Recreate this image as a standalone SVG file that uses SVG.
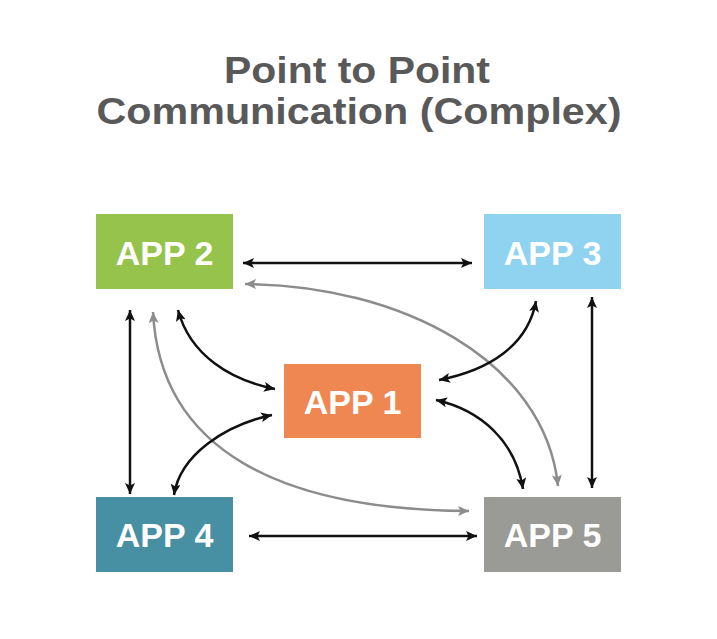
<svg xmlns="http://www.w3.org/2000/svg" width="717" height="639" viewBox="0 0 717 639">
<style>
.title{font-family:"Liberation Sans",Arial,sans-serif;font-weight:bold;font-size:36px;fill:#595959;text-anchor:middle}
.lbl{font-family:"Liberation Sans",Arial,sans-serif;font-weight:bold;font-size:34px;fill:#ffffff;text-anchor:middle}
.blk{fill:none;stroke:#111111;stroke-width:2.5;marker-start:url(#ab);marker-end:url(#ab)}
.gry{fill:none;stroke:#8c8c8c;stroke-width:2.5;marker-start:url(#ag);marker-end:url(#ag)}
</style>
<defs>
<marker id="ab" markerUnits="userSpaceOnUse" markerWidth="12" markerHeight="10" refX="11" refY="5" orient="auto-start-reverse" viewBox="0 0 12 10">
<path d="M0,0 L11,5 L0,10 L2.5,5 z" fill="#111111"/>
</marker>
<marker id="ag" markerUnits="userSpaceOnUse" markerWidth="12" markerHeight="10" refX="11" refY="5" orient="auto-start-reverse" viewBox="0 0 12 10">
<path d="M0,0 L11,5 L0,10 L2.5,5 z" fill="#8c8c8c"/>
</marker>
</defs>
<rect width="717" height="639" fill="#ffffff"/>
<g id="title">
<text class="title" x="357" y="83" textLength="266" lengthAdjust="spacingAndGlyphs">Point to Point</text>
<text class="title" x="359" y="124" textLength="525" lengthAdjust="spacingAndGlyphs">Communication (Complex)</text>
</g>
<g id="connectors">
<path class="blk" d="M243,263 L472,263"/>
<path class="gry" d="M245,284 C400,285 545,360 558,486"/>
<path class="gry" d="M153,312 C160,450 280,510 469,511"/>
<path class="blk" d="M130,310 L130,494"/>
<path class="blk" d="M178,310 C190,355 230,380 275,389"/>
<path class="blk" d="M272,415 C225,425 180,455 174,495"/>
<path class="blk" d="M536,301 C528,345 490,370 439,380"/>
<path class="blk" d="M436,400 C480,410 515,440 523,489"/>
<path class="blk" d="M592,297 L592,488"/>
<path class="blk" d="M249,536 L477,536"/>
</g>
<g id="app2">
<rect x="96" y="214" width="137" height="75" fill="#96c34b"/>
<text class="lbl" x="164.5" y="264.5">APP 2</text>
</g>
<g id="app3">
<rect x="484" y="214" width="137" height="75" fill="#90d3f0"/>
<text class="lbl" x="552.5" y="264.5">APP 3</text>
</g>
<g id="app1">
<rect x="284" y="364" width="137" height="74" fill="#ee8751"/>
<text class="lbl" x="352.5" y="413.5">APP 1</text>
</g>
<g id="app4">
<rect x="96" y="497" width="137" height="75" fill="#478fa3"/>
<text class="lbl" x="164.5" y="547">APP 4</text>
</g>
<g id="app5">
<rect x="484" y="497" width="137" height="75" fill="#9a9a96"/>
<text class="lbl" x="552.5" y="547">APP 5</text>
</g>
</svg>
